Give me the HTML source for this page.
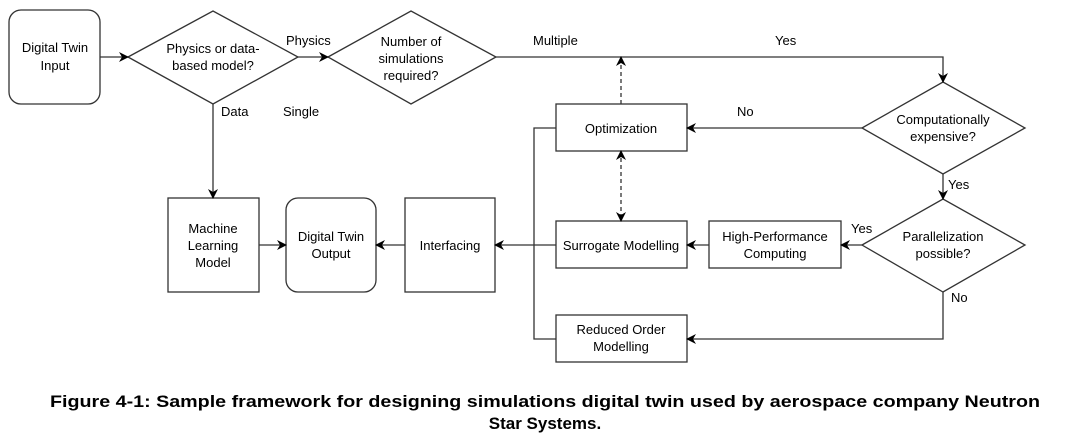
<!DOCTYPE html>
<html><head><meta charset="utf-8"><style>
html,body{margin:0;padding:0;background:#fff;}
svg{display:block;}
text{font-family:"Liberation Sans",Arial,sans-serif;fill:#000;}
</style></head><body>
<svg width="1080" height="441" viewBox="0 0 1080 441" xmlns="http://www.w3.org/2000/svg">
<defs>
<marker id="a" markerWidth="10" markerHeight="10" refX="9" refY="5" orient="auto" markerUnits="userSpaceOnUse">
<path d="M0,0 L10,5 L0,10 L3,5 Z" fill="#000"/></marker>
<marker id="as" markerWidth="10" markerHeight="10" refX="1" refY="5" orient="auto" markerUnits="userSpaceOnUse">
<path d="M10,0 L0,5 L10,10 L7,5 Z" fill="#000"/></marker>
</defs>
<g fill="none" stroke="#333" stroke-width="1.3">
<rect x="9" y="10" width="91" height="94" rx="12"/>
<polygon points="128,57 213,11 298,57 213,104"/>
<polygon points="328,57 411,11 496,57 411,104"/>
<rect x="168" y="198" width="91" height="94"/>
<rect x="286" y="198" width="90" height="94" rx="12"/>
<rect x="405" y="198" width="90" height="94"/>
<polygon points="862,128 943,82 1025,128 943,174"/>
<polygon points="862,245 943,199 1025,245 943,292"/>
<rect x="556" y="104" width="131" height="47"/>
<rect x="556" y="221" width="131" height="47"/>
<rect x="709" y="221" width="132" height="47"/>
<rect x="556" y="315" width="131" height="47"/>
</g>
<g fill="none" stroke="#333" stroke-width="1.3">
<line x1="100" y1="57" x2="128" y2="57" marker-end="url(#a)"/>
<line x1="298" y1="57" x2="328" y2="57" marker-end="url(#a)"/>
<line x1="213" y1="104" x2="213" y2="198" marker-end="url(#a)"/>
<line x1="259" y1="245" x2="286" y2="245" marker-end="url(#a)"/>
<line x1="405" y1="245" x2="376" y2="245" marker-end="url(#a)"/>
<line x1="534" y1="245" x2="495" y2="245" marker-end="url(#a)"/>
<polyline points="496,57 943,57 943,82" marker-end="url(#a)"/>
<line x1="862" y1="128" x2="687" y2="128" marker-end="url(#a)"/>
<line x1="943" y1="174" x2="943" y2="199" marker-end="url(#a)"/>
<line x1="862" y1="245" x2="841" y2="245" marker-end="url(#a)"/>
<line x1="709" y1="245" x2="687" y2="245" marker-end="url(#a)"/>
<polyline points="943,292 943,339 687,339" marker-end="url(#a)"/>
<polyline points="556,128 534,128 534,339 556,339"/>
<line x1="534" y1="245" x2="556" y2="245"/>
<line x1="621" y1="104" x2="621" y2="57" stroke-dasharray="4,3" marker-end="url(#a)"/>
<line x1="621" y1="151" x2="621" y2="221" stroke-dasharray="4,3" marker-end="url(#a)" marker-start="url(#as)"/>
</g>
<g font-size="13" text-anchor="middle">
<text x="55" y="52">Digital Twin</text><text x="55" y="70">Input</text>
<text x="213" y="53">Physics or data-</text><text x="213" y="70">based model?</text>
<text x="411" y="46">Number of</text><text x="411" y="63">simulations</text><text x="411" y="80">required?</text>
<text x="213" y="233">Machine</text><text x="213" y="250">Learning</text><text x="213" y="267">Model</text>
<text x="331" y="241">Digital Twin</text><text x="331" y="258">Output</text>
<text x="450" y="250">Interfacing</text>
<text x="621" y="133">Optimization</text>
<text x="621" y="250">Surrogate Modelling</text>
<text x="775" y="241">High-Performance</text><text x="775" y="258">Computing</text>
<text x="621" y="334">Reduced Order</text><text x="621" y="351">Modelling</text>
<text x="943" y="124">Computationally</text><text x="943" y="141">expensive?</text>
<text x="943" y="241">Parallelization</text><text x="943" y="258">possible?</text>
</g>
<g font-size="13">
<text x="286" y="45">Physics</text>
<text x="221" y="116">Data</text>
<text x="283" y="116">Single</text>
<text x="533" y="45">Multiple</text>
<text x="775" y="45">Yes</text>
<text x="737" y="116">No</text>
<text x="948" y="189">Yes</text>
<text x="851" y="233">Yes</text>
<text x="951" y="302">No</text>
</g>
<g font-size="17" font-weight="bold" text-anchor="middle">
<text x="545" y="407" textLength="990" lengthAdjust="spacingAndGlyphs">Figure 4-1: Sample framework for designing simulations digital twin used by aerospace company Neutron</text>
<text x="545" y="429">Star Systems.</text>
</g>
</svg>
</body></html>
